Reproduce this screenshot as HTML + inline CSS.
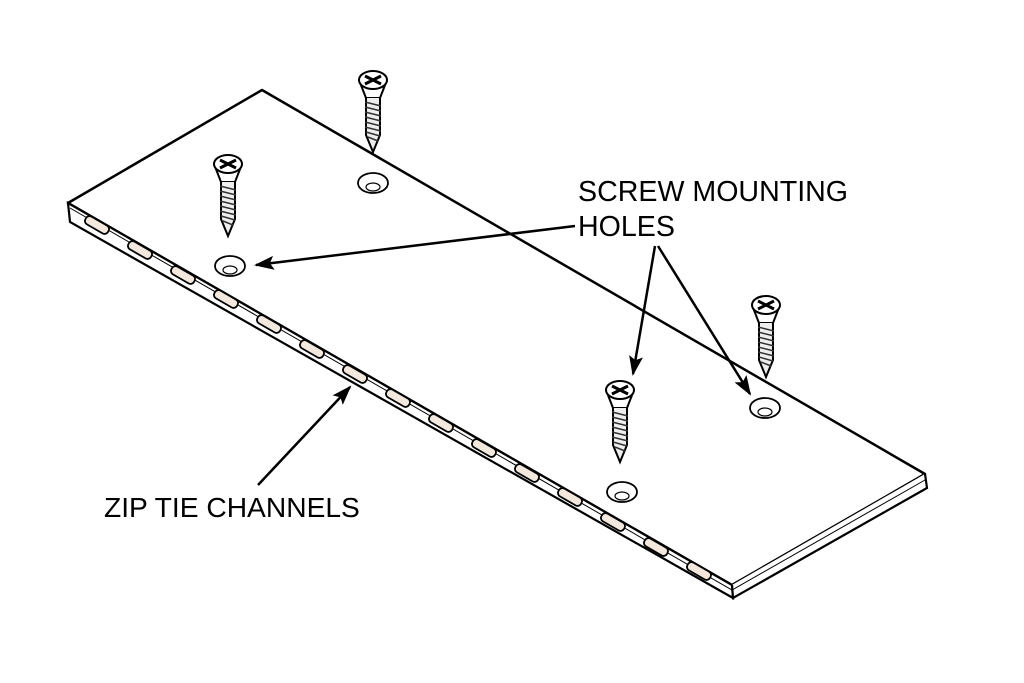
<!DOCTYPE html>
<html><head><style>body{margin:0;background:#fff}svg{display:block}</style></head><body>
<svg width="1024" height="683" viewBox="0 0 1024 683" xmlns="http://www.w3.org/2000/svg">
<defs>
<marker id="ah" markerWidth="20" markerHeight="14" refX="18" refY="7" orient="auto" markerUnits="userSpaceOnUse">
<path d="M0,0 L20,7 L0,14 L4,7 z" fill="#000"/>
</marker>
<g id="screw">
<path d="M-14,0 L-7,18 L7,18 L14,0" fill="#fff" stroke="#000" stroke-width="2"/>
<ellipse cx="0" cy="0" rx="14" ry="9" fill="#fff" stroke="#000" stroke-width="2"/>
<path d="M-8,-4 L8,4 M-8,4 L8,-4" stroke="#000" stroke-width="3"/>
<path d="M-7,18 L-7,55 L0,72 L7,55 L7,18" fill="#eee" stroke="#000" stroke-width="2"/>
<g stroke="#333" stroke-width="1.5">
<path d="M-8,22 L8,26 M-8,27 L8,31 M-8,32 L8,36 M-8,37 L8,41 M-8,42 L8,46 M-8,47 L8,51 M-7,52 L7,56 M-5,57 L5,61"/>
</g>
</g>
<g id="hole">
<ellipse cx="0" cy="0" rx="15" ry="10" fill="#fff" stroke="#000" stroke-width="1.8"/>
<ellipse cx="0" cy="4" rx="7" ry="4" fill="#fff" stroke="#000" stroke-width="1.2"/>
</g>
</defs>
<!-- plate -->
<path d="M68,203 L262,90 L925,474 L732,585 Z" fill="#fff" stroke="#000" stroke-width="2.5" stroke-linejoin="round"/>
<path d="M68,203 L70,222 L733,598 L732,585 Z" fill="#fff" stroke="#000" stroke-width="2.2"/>
<path d="M732,585 L733,598 L927,488 L925,474" fill="#fff" stroke="#000" stroke-width="2.2"/>
<path d="M70,208 L732,590 L925,480" fill="none" stroke="#000" stroke-width="1"/>
<!-- slots -->
<g fill="#f2e8dd" stroke="#000" stroke-width="1.8">
<rect x="-13" y="-4.5" width="26" height="9" rx="4" transform="translate(97,225) rotate(30)"/>
<rect x="-13" y="-4.5" width="26" height="9" rx="4" transform="translate(140,250) rotate(30)"/>
<rect x="-13" y="-4.5" width="26" height="9" rx="4" transform="translate(183,275) rotate(30)"/>
<rect x="-13" y="-4.5" width="26" height="9" rx="4" transform="translate(226,299) rotate(30)"/>
<rect x="-13" y="-4.5" width="26" height="9" rx="4" transform="translate(269,324) rotate(30)"/>
<rect x="-13" y="-4.5" width="26" height="9" rx="4" transform="translate(312,349) rotate(30)"/>
<rect x="-13" y="-4.5" width="26" height="9" rx="4" transform="translate(355,374) rotate(30)"/>
<rect x="-13" y="-4.5" width="26" height="9" rx="4" transform="translate(398,398) rotate(30)"/>
<rect x="-13" y="-4.5" width="26" height="9" rx="4" transform="translate(441,423) rotate(30)"/>
<rect x="-13" y="-4.5" width="26" height="9" rx="4" transform="translate(484,448) rotate(30)"/>
<rect x="-13" y="-4.5" width="26" height="9" rx="4" transform="translate(527,473) rotate(30)"/>
<rect x="-13" y="-4.5" width="26" height="9" rx="4" transform="translate(570,497) rotate(30)"/>
<rect x="-13" y="-4.5" width="26" height="9" rx="4" transform="translate(613,522) rotate(30)"/>
<rect x="-13" y="-4.5" width="26" height="9" rx="4" transform="translate(656,547) rotate(30)"/>
<rect x="-13" y="-4.5" width="26" height="9" rx="4" transform="translate(699,571) rotate(30)"/>
</g>
<!-- holes -->
<use href="#hole" x="373" y="183"/>
<use href="#hole" x="230" y="266"/>
<use href="#hole" x="765" y="408"/>
<use href="#hole" x="622" y="492"/>
<!-- screws -->
<use href="#screw" x="373" y="80"/>
<use href="#screw" x="228" y="164"/>
<use href="#screw" x="766" y="305"/>
<use href="#screw" x="620" y="390"/>
<!-- arrows -->
<g stroke="#000" stroke-width="2.5" fill="none">
<line x1="575" y1="226" x2="256" y2="265" marker-end="url(#ah)"/>
<line x1="655" y1="246" x2="633" y2="374" marker-end="url(#ah)"/>
<line x1="658" y1="246" x2="750" y2="394" marker-end="url(#ah)"/>
<line x1="258" y1="485" x2="350" y2="387" marker-end="url(#ah)"/>
</g>
<g font-family="Liberation Sans, sans-serif" font-size="28.6" fill="#000">
<text x="578" y="201">SCREW MOUNTING</text>
<text x="578" y="236">HOLES</text>
<text x="104" y="517" font-size="28.2">ZIP TIE CHANNELS</text>
</g>
</svg>
</body></html>
